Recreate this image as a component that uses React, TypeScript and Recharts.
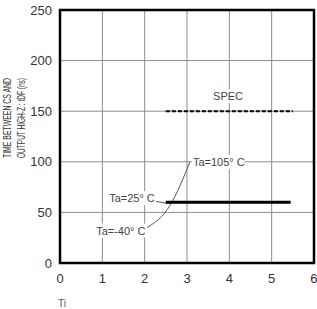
import { CartesianGrid, Line, LineChart, ReferenceArea, ReferenceDot, XAxis, YAxis } from 'recharts';

document.body.style.margin = '0';

const xTicks = [0, 1, 2, 3, 4, 5, 6];
const yTicks = [0, 50, 100, 150, 200, 250];

// spec limit and measured tDF
const specLine = [
  { x: 2.5, y: 150 },
  { x: 5.5, y: 150 },
];
const measured = [
  { x: 2.5, y: 60 },
  { x: 5.45, y: 60 },
];

// leader lines from the temperature notes
const leader105 = [
  { x: 2.06, y: 35 },
  { x: 2.6, y: 57 },
  { x: 3.07, y: 100 },
];
const leader25 = [
  { x: 2.24, y: 61 },
  { x: 2.53, y: 59 },
];

const notes = [
  { text: 'Ta=105° C', x: 3.14, y: 100, anchor: 'start' },
  { text: 'Ta=25° C', x: 2.24, y: 64, anchor: 'end' },
  { text: 'Ta=-40° C', x: 2.02, y: 32, anchor: 'end' },
  { text: 'SPEC', x: 3.97, y: 165, anchor: 'middle' },
];

const font = '"Liberation Sans", Arial, sans-serif';

function noteLabel(text: string, anchor: string) {
  return (props: any) => {
    const vb = props.viewBox || {};
    const cx = vb.x + (vb.width || 0) / 2;
    const cy = vb.y + (vb.height || 0) / 2;
    const w = text.length * 5.6 + 2;
    const left = anchor === 'start' ? cx - 1 : anchor === 'end' ? cx - w + 1 : cx - w / 2;
    return (
      <g>
        <rect x={left} y={cy - 7} width={w} height={14} fill="#fff" />
        <text x={cx} y={cy + 4} textAnchor={anchor} fontSize={11} fill="#444" fontFamily={font}>
          {text}
        </text>
      </g>
    );
  };
}

export default function App() {
  return (
    <LineChart width={317} height={309} margin={{ top: 10, right: 3, left: 0, bottom: 0 }}>
      <CartesianGrid stroke="#8c8c8c" strokeWidth={1} />
      <XAxis
        type="number"
        dataKey="x"
        domain={[0, 6]}
        ticks={xTicks}
        axisLine={false}
        tickLine={false}
        tickMargin={5}
        height={46}
        tick={{ fill: '#333', fontSize: 13, fontFamily: font }}
        allowDataOverflow
      />
      <YAxis
        type="number"
        dataKey="y"
        domain={[0, 250]}
        ticks={yTicks}
        axisLine={false}
        tickLine={false}
        tickMargin={2}
        width={60}
        tick={{ fill: '#333', fontSize: 13, fontFamily: font }}
        label={() => (
          <g fontFamily={font} fontSize={10.5} fill="#333">
            <text x={78} y={11} transform="rotate(-90, 118, 118)" textLength={80} lengthAdjust="spacingAndGlyphs">
              TIME  BETWEEN  CS  AND
            </text>
            <text x={78} y={25} transform="rotate(-90, 118, 118)" textLength={80} lengthAdjust="spacingAndGlyphs">
              OUTPUT  HIGH-Z : tDF (ns)
            </text>
          </g>
        )}
      />
      <ReferenceArea x1={0} x2={6} y1={0} y2={250} fill="none" stroke="#000" strokeWidth={2.5} />
      <Line data={leader105} dataKey="y" type="monotone" stroke="#555" strokeWidth={1} dot={false} isAnimationActive={false} />
      <Line data={leader25} dataKey="y" type="linear" stroke="#555" strokeWidth={1} dot={false} isAnimationActive={false} />
      <Line data={specLine} dataKey="y" type="linear" stroke="#000" strokeWidth={2} strokeDasharray="4 2" dot={false} isAnimationActive={false} />
      <Line data={measured} dataKey="y" type="linear" stroke="#000" strokeWidth={3} dot={false} isAnimationActive={false} />
      {notes.map((n) => (
        <ReferenceDot key={n.text} x={n.x} y={n.y} r={1} fill="none" stroke="none" label={{ content: noteLabel(n.text, n.anchor) }} />
      ))}
      <text x={58} y={307} fontSize={10} style={{ fill: '#555' }} fontFamily={font}>Ti</text>
    </LineChart>
  );
}
